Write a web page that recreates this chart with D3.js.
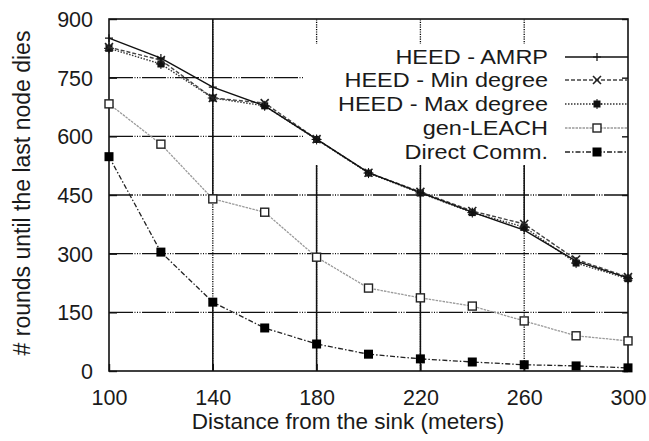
<!DOCTYPE html>
<html>
<head>
<meta charset="utf-8">
<script src="https://cdn.jsdelivr.net/npm/d3@7"></script>
<style>
  html, body { margin: 0; padding: 0; background: #fff; }
  svg text { font-family: "Liberation Sans", Arial, Helvetica, sans-serif; fill: #1a1a1a; }
</style>
</head>
<body>
<svg id="chart" width="649" height="441"></svg>
<script>
// Distances from the sink (meters)
const distances = [100, 120, 140, 160, 180, 200, 220, 240, 260, 280, 300];

// Rounds until the last node dies, per protocol
const heedAmrp      = [851, 800, 726, 678, 593, 507, 456, 406, 360, 281, 238];
const heedMinDegree = [828, 795, 698, 685, 593, 507, 458, 409, 376, 285, 240];
const heedMaxDegree = [825, 785, 698, 678, 592, 506, 455, 405, 368, 276, 236];
const genLeach      = [683, 580, 440, 406, 291, 212, 187, 166, 128,  90,  77];
const directComm    = [548, 304, 176, 110,  69,  43,  31,  23,  16,  13,   8];

const seriesNames = ["HEED - AMRP", "HEED - Min degree", "HEED - Max degree", "gen-LEACH", "Direct Comm."];

const xTicks = [100, 140, 180, 220, 260, 300];
const yTicks = [0, 150, 300, 450, 600, 750, 900];

const svg = d3.select("#chart");
const plotLeft = 109, plotRight = 628, plotTop = 19, plotBottom = 371;

const x = d3.scaleLinear().domain([100, 300]).range([plotLeft, plotRight]);
const y = d3.scaleLinear().domain([0, 900]).range([plotBottom, plotTop]);

const series = [
  { name: seriesNames[0], values: heedAmrp,      stroke: "#111", width: 1.4, dash: null,          marker: "plus" },
  { name: seriesNames[1], values: heedMinDegree, stroke: "#444", width: 1.4, dash: "4,2",         marker: "cross" },
  { name: seriesNames[2], values: heedMaxDegree, stroke: "#333", width: 1.4, dash: "1.5,1.5",     marker: "star" },
  { name: seriesNames[3], values: genLeach,      stroke: "#9a9a9a", width: 1.3, dash: "2.5,1",    marker: "openSquare" },
  { name: seriesNames[4], values: directComm,    stroke: "#222", width: 1.3, dash: "5,2,1.5,2",   marker: "filledSquare" }
];

// ---- grid ----
const grid = svg.append("g");
const hDash = "24,1.5,1,1.5,1,1.5,1,1.5";
yTicks.filter(v => v > 0 && v < 900).forEach(v => {
  grid.append("line")
    .attr("x1", plotLeft).attr("x2", plotRight)
    .attr("y1", y(v)).attr("y2", y(v))
    .attr("stroke", "#111").attr("stroke-width", 1.3)
    .attr("stroke-dasharray", hDash);
});

// vertical grid: dotted base, with solid stretches
const legendBottomValue = y.invert(165);
const vSolid = {
  140: [[genLeach[2], 900], [0, directComm[2]]],
  180: [[0, legendBottomValue]],
  220: [[0, legendBottomValue]],
  260: [[0, directComm[8]], [heedAmrp[8], legendBottomValue]]
};
xTicks.filter(t => t > 100 && t < 300).forEach(t => {
  grid.append("line")
    .attr("x1", x(t)).attr("x2", x(t))
    .attr("y1", y(0)).attr("y2", y(900))
    .attr("stroke", "#000").attr("stroke-width", 1.3)
    .attr("stroke-dasharray", "1.2,1.2");
  vSolid[t].forEach(([a, b]) => {
    grid.append("line")
      .attr("x1", x(t)).attr("x2", x(t))
      .attr("y1", y(a)).attr("y2", y(b))
      .attr("stroke", "#111").attr("stroke-width", 1.5);
  });
});

// opaque key background
const keyBox = { x: 303, y: 44, w: plotRight - 303, h: 121 };
svg.append("rect")
  .attr("x", keyBox.x).attr("y", keyBox.y)
  .attr("width", keyBox.w).attr("height", keyBox.h)
  .attr("fill", "#fff");

// ---- border and ticks ----
svg.append("rect")
  .attr("x", plotLeft).attr("y", plotTop)
  .attr("width", plotRight - plotLeft).attr("height", plotBottom - plotTop)
  .attr("fill", "none").attr("stroke", "#111").attr("stroke-width", 1.6);

const axisY = d3.axisLeft(y).tickValues(yTicks).tickSize(-8).tickPadding(16);
const gY = svg.append("g").attr("transform", `translate(${plotLeft},0)`).call(axisY);
gY.select(".domain").remove();
gY.selectAll("line").attr("stroke", "#111").attr("stroke-width", 1.4);
gY.selectAll("text").attr("font-size", 21.5).attr("fill", "#1a1a1a")
  .attr("x", -16).attr("dy", "0.35em");

const axisYR = d3.axisRight(y).tickValues(yTicks).tickSize(-6).tickFormat("");
const gYR = svg.append("g").attr("transform", `translate(${plotRight},0)`).call(axisYR);
gYR.select(".domain").remove();
gYR.selectAll("line").attr("stroke", "#111").attr("stroke-width", 1.4);

const axisX = d3.axisBottom(x).tickValues(xTicks).tickSize(-7).tickPadding(14);
const gX = svg.append("g").attr("transform", `translate(0,${plotBottom})`).call(axisX);
gX.select(".domain").remove();
gX.selectAll("line").attr("stroke", "#111").attr("stroke-width", 1.4);
gX.selectAll("text").attr("font-size", 21.5).attr("fill", "#1a1a1a").attr("dy", "0.95em");

// ---- curves ----
const line = d3.line().x((d, i) => x(distances[i])).y(d => y(d));

function drawMarker(g, kind, cx, cy) {
  if (kind === "plus") {
    g.append("path").attr("d", `M${cx-4},${cy}H${cx+4}M${cx},${cy-4}V${cy+4}`)
      .attr("stroke", "#111").attr("stroke-width", 1.2).attr("fill", "none");
  } else if (kind === "cross") {
    g.append("path").attr("d", `M${cx-4},${cy-4}L${cx+4},${cy+4}M${cx-4},${cy+4}L${cx+4},${cy-4}`)
      .attr("stroke", "#222").attr("stroke-width", 1.6).attr("fill", "none");
  } else if (kind === "star") {
    g.append("rect").attr("x", cx - 3.5).attr("y", cy - 3.5).attr("width", 7).attr("height", 7)
      .attr("fill", "#111");
    g.append("path").attr("d", `M${cx-5},${cy}H${cx+5}M${cx},${cy-5}V${cy+5}`)
      .attr("stroke", "#111").attr("stroke-width", 1).attr("fill", "none");
  } else if (kind === "openSquare") {
    g.append("rect").attr("x", cx - 4).attr("y", cy - 4).attr("width", 8).attr("height", 8)
      .attr("fill", "#fff").attr("stroke", "#222").attr("stroke-width", 1.4);
  } else if (kind === "filledSquare") {
    g.append("rect").attr("x", cx - 4.5).attr("y", cy - 4.5).attr("width", 9).attr("height", 9)
      .attr("fill", "#000");
  }
}

const curves = svg.append("g");
series.slice().reverse().forEach(s => {
  curves.append("path")
    .attr("d", line(s.values))
    .attr("fill", "none")
    .attr("stroke", s.stroke)
    .attr("stroke-width", s.width)
    .attr("stroke-dasharray", s.dash);
  s.values.forEach((v, i) => drawMarker(curves, s.marker, x(distances[i]), y(v)));
});

// ---- key ----
const key = svg.append("g");
const keyRows = [57, 80, 104, 128, 152];
series.forEach((s, i) => {
  const ry = keyRows[i];
  key.append("text")
    .attr("transform", `translate(548,${ry}) scale(1.14,1)`)
    .attr("dy", "0.36em")
    .attr("text-anchor", "end").attr("font-size", 20.6)
    .text(s.name);
  key.append("line")
    .attr("x1", 565).attr("x2", plotRight).attr("y1", ry).attr("y2", ry)
    .attr("stroke", s.stroke).attr("stroke-width", s.width)
    .attr("stroke-dasharray", s.dash);
  drawMarker(key, s.marker, 597, ry);
});

// ---- axis titles ----
svg.append("text")
  .attr("x", 348).attr("y", 429)
  .attr("text-anchor", "middle").attr("font-size", 22.5)
  .text("Distance from the sink (meters)");

svg.append("text")
  .attr("transform", "translate(30,193) rotate(-90)")
  .attr("text-anchor", "middle").attr("font-size", 23)
  .text("# rounds until the last node dies");
</script>
</body>
</html>
